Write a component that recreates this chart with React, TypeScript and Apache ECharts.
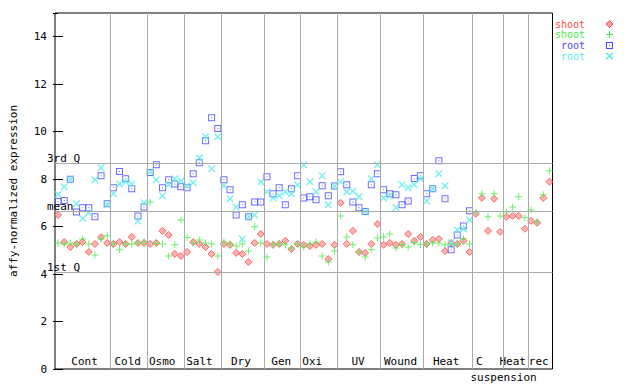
import React, { useEffect, useRef } from 'react';
import * as echarts from 'echarts';

// ---------- data ----------
const groupNames = ['Cont', 'Cold', 'Osmo', 'Salt', 'Dry', 'Gen', 'Oxi', 'UV', 'Wound', 'Heat', 'C', 'Heat', 'rec'];
const groupSizes = [9, 6, 6, 6, 7, 6, 6, 7, 7, 8, 5, 4, 4];
const subLabel = 'suspension';

const shootRed = [
  6.49, 5.35, 5.14, 5.27, 5.35, 4.93, 5.27, 5.56, 5.31,
  5.27, 5.35, 5.27, 5.56, 5.31, 5.31,
  5.27, 5.31, 5.82, 5.65, 4.85, 4.76,
  4.93, 5.35, 5.27, 5.14, 4.85, 4.09,
  5.27, 5.23, 4.89, 4.85, 4.51, 5.31, 5.69,
  5.27, 5.23, 5.27, 5.40, 5.06, 5.27,
  5.23, 5.18, 5.23, 5.27, 4.63, 5.23,
  7.00, 5.27, 5.82, 4.93, 4.89, 5.27, 6.11,
  5.23, 5.31, 5.23, 5.27, 5.69, 5.40, 5.56,
  5.27, 5.44, 5.48, 4.97, 5.31, 5.27, 5.40, 4.93,
  6.54, 7.21, 5.82, 7.17, 5.78,
  6.41, 6.45, 6.45, 5.91,
  6.24, 6.16, 7.21, 7.89,
];
const shootGreen = [
  5.31, 5.27, 5.31, 5.27, 5.48, 5.27, 4.80, 5.48, 5.61,
  5.27, 5.02, 5.27, 5.27, 5.31, 5.35,
  7.04, 5.29, 5.27, 4.76, 5.23, 6.28,
  5.54, 5.31, 5.44, 5.31, 5.27, 4.76,
  5.35, 5.27, 5.18, 5.27, 4.97, 5.99, 5.31,
  4.72, 5.23, 5.27, 5.23, 5.10, 5.27,
  5.14, 5.27, 5.35, 4.76, 4.51, 4.97,
  6.45, 5.56, 5.23, 4.93, 4.72, 5.02, 5.52,
  5.56, 5.69, 5.10, 5.23, 5.14, 5.33, 5.23,
  5.27, 5.31, 5.31, 5.23, 5.23, 5.27, 5.48, 5.27,
  6.62, 7.38, 6.41, 7.38, 6.45,
  6.62, 6.83, 7.26, 6.37,
  6.71, 6.20, 7.34, 8.35,
];
const rootBlue = [
  7.06, 7.10, 8.00, 6.62, 6.79, 6.79, 6.41, 8.14, 6.96,
  7.64, 8.32, 8.02, 7.59, 6.45, 6.83,
  8.28, 8.61, 7.64, 7.97, 7.80, 7.68,
  7.64, 8.23, 8.69, 9.62, 10.59, 10.13,
  7.97, 7.55, 6.49, 6.92, 6.41, 7.04, 7.04,
  8.10, 7.38, 7.64, 6.92, 7.59, 8.14,
  7.21, 7.26, 7.13, 7.72, 7.30, 7.71,
  8.31, 7.76, 7.04, 6.79, 6.64, 7.76, 8.23,
  7.55, 7.38, 7.34, 6.92, 7.08, 8.03, 8.14,
  7.38, 7.59, 8.77, 7.17, 5.02, 5.65, 6.03, 6.67,
];
const rootCyan = [
  7.35, 7.68, 8.00, 6.96, 6.34, 6.58, 7.97, 8.48, 6.92,
  7.38, 7.80, 7.89, 7.80, 6.24, 7.00,
  8.31, 7.97, 7.30, 7.76, 8.02, 7.93,
  7.73, 7.85, 8.90, 9.79, 8.44, 9.79,
  7.72, 7.17, 6.83, 5.48, 6.41, 6.49, 7.89,
  7.47, 7.21, 7.30, 7.47, 7.38, 7.76,
  8.61, 7.89, 7.47, 8.14, 6.92, 7.71,
  7.89, 7.47, 7.49, 7.26, 6.64, 8.02, 8.61,
  7.21, 7.30, 6.79, 7.76, 7.64, 7.76, 8.02,
  7.08, 7.59, 8.23, 7.72, 5.33, 5.86, 5.90, 6.28,
];
const quartileNames = ['3rd Q', 'mean', '1st Q'];
const quartileValues = [8.69, 6.64, 4.09];
const legendNames = ['shoot', 'shoot', 'root', 'root'];

// ---------- layout / style ----------
const FONT = 'DejaVu Sans Mono';
const RED = '#ff4a4a';
const RED_FILL = '#ffa0a0';
const GREEN = '#44ee44';
const BLUE = '#4646ff';
const CYAN = '#55eeee';
const GRID = { left: 44, top: 13, width: 508.5, height: 356 };
const labelShiftPx = [2, -1, -3.5, -3, -1.5, -1, -7, -1, -1.5, -2, -9, -3, -1.5];
const subLabelPx = 502.5;

const P_PLUS = 'M3,0h1v3h3v1h-3v3h-1v-3h-3v-1h3z';
const P_X = 'M0,0H1L3.5,2.5L6,0H7V1L4.5,3.5L7,6V7H6L3.5,4.5L1,7H0V6L2.5,3.5L0,1Z';
const P_SQ = 'M0,0H7V7H0Z M1,1V6H6V1Z M3,3H4V4H3Z';
const P_DIA = 'M3.5,0L7,3.5L3.5,7L0,3.5Z';

echarts.graphic.registerShape('mkPlus', echarts.graphic.extendPath(P_PLUS, {}));
echarts.graphic.registerShape('mkX', echarts.graphic.extendPath(P_X, {}));
echarts.graphic.registerShape('mkSq', echarts.graphic.extendPath(P_SQ, {}));
echarts.graphic.registerShape('mkDia', echarts.graphic.extendPath(P_DIA, {}));

export default function App() {
  const ref = useRef<HTMLDivElement>(null);

  useEffect(() => {
    if (!ref.current) return;
    const chart = echarts.init(ref.current, null, { renderer: 'svg' });

    const n = groupSizes.reduce((a, b) => a + b, 0);
    const xMin = -0.5;
    const xMax = n - 0.5;
    const pxPerIdx = GRID.width / n;

    const bounds: number[] = [];
    const centers: number[] = [];
    let start = 0;
    groupSizes.forEach((s, k) => {
      centers.push(start + (s - 1) / 2 + labelShiftPx[k] / pxPerIdx);
      start += s;
      if (k < groupSizes.length - 1) bounds.push(start - 0.5);
    });
    const subPos = (subLabelPx - GRID.left) / pxPerIdx - 0.5;

    const xy = (arr: number[]) => arr.map((v, i) => [i, v]);
    const textBase = { fontFamily: FONT, fontSize: 11, color: '#000' };

    const legendRows = [
      { y: 24, color: RED, shape: 'mkDia', fill: RED_FILL, stroke: RED },
      { y: 34.5, color: GREEN, shape: 'mkPlus', fill: GREEN, stroke: null },
      { y: 45.5, color: BLUE, shape: 'mkSq', fill: BLUE, stroke: null },
      { y: 56, color: CYAN, shape: 'mkX', fill: CYAN, stroke: null },
    ];
    const graphic: any[] = [];
    legendRows.forEach((r, k) => {
      graphic.push({
        type: 'text', x: 585, y: r.y,
        style: { text: legendNames[k], fill: r.color, font: `10px ${FONT}`, textAlign: 'right', textVerticalAlign: 'middle' },
      });
      graphic.push({
        type: r.shape, x: 606, y: r.y - 3.5,
        style: r.stroke ? { fill: r.fill, stroke: r.stroke, lineWidth: 1 } : { fill: r.fill },
      });
    });

    const option: any = {
      animation: false,
      backgroundColor: '#fff',
      grid: { ...GRID, show: true, borderColor: '#000', borderWidth: 1, backgroundColor: 'transparent' },
      graphic,
      xAxis: [
        {
          type: 'value', min: xMin, max: xMax, position: 'bottom',
          axisLine: { show: false }, axisTick: { show: false }, axisLabel: { show: false }, splitLine: { show: false },
        },
        {
          type: 'value', min: xMin, max: xMax, position: 'bottom', gridIndex: 0,
          axisLine: { show: false }, axisTick: { show: false }, splitLine: { show: false },
          axisLabel: {
            inside: true, margin: 2, customValues: centers, ...textBase,
            formatter: (v: number) => {
              const k = centers.findIndex((c) => Math.abs(c - v) < 1e-6);
              return k >= 0 ? groupNames[k] : '';
            },
          },
        },
        {
          type: 'value', min: xMin, max: xMax, position: 'bottom', gridIndex: 0,
          axisLine: { show: false }, axisTick: { show: false }, splitLine: { show: false },
          axisLabel: { margin: 3, customValues: [subPos], ...textBase, formatter: () => subLabel },
        },
      ],
      yAxis: [
        {
          type: 'value', min: 0, max: 15, interval: 2, position: 'left',
          name: 'affy-normalized expression', nameLocation: 'middle', nameGap: 36,
          nameTextStyle: { ...textBase },
          axisLine: { show: false },
          axisTick: { show: true, inside: true, length: 5, lineStyle: { color: '#000' } },
          axisLabel: { ...textBase, margin: 8, showMaxLabel: false },
          splitLine: { show: false },
        },
        {
          type: 'value', min: 0, max: 15, interval: 2, position: 'right',
          axisLine: { show: false },
          axisTick: { show: true, inside: true, length: 5, lineStyle: { color: '#000' } },
          axisLabel: { show: false },
          splitLine: { show: false },
        },
      ],
      series: [
        {
          name: 'shoot', type: 'scatter', data: xy(shootRed), symbol: 'diamond', symbolSize: 7,
          itemStyle: { color: RED_FILL, borderColor: RED, borderWidth: 1 },
          markLine: {
            silent: true, symbol: ['none', 'none'], animation: false,
            lineStyle: { color: '#aaaaaa', width: 1, type: 'solid' },
            data: [
              ...bounds.map((b) => ({ xAxis: b, label: { show: false } })),
              ...quartileValues.map((q, k) => ({
                yAxis: q,
                label: {
                  show: true, position: 'insideStartTop', distance: 1, offset: [-9, 2],
                  formatter: quartileNames[k], ...textBase,
                },
              })),
            ],
          },
        },
        {
          name: 'shoot', type: 'scatter', data: xy(shootGreen), symbol: 'path://' + P_PLUS, symbolSize: 7,
          itemStyle: { color: GREEN },
        },
        {
          name: 'root', type: 'scatter', data: xy(rootBlue), symbol: 'path://' + P_SQ, symbolSize: 7,
          itemStyle: { color: BLUE },
        },
        {
          name: 'root', type: 'scatter', data: xy(rootCyan), symbol: 'path://' + P_X, symbolSize: 7,
          itemStyle: { color: CYAN },
        },
      ],
    };

    chart.setOption(option);
    return () => chart.dispose();
  }, []);

  return (
    <div
      ref={ref}
      style={{ position: 'fixed', left: 0, top: 0, width: 640, height: 384, background: '#fff' }}
    />
  );
}
